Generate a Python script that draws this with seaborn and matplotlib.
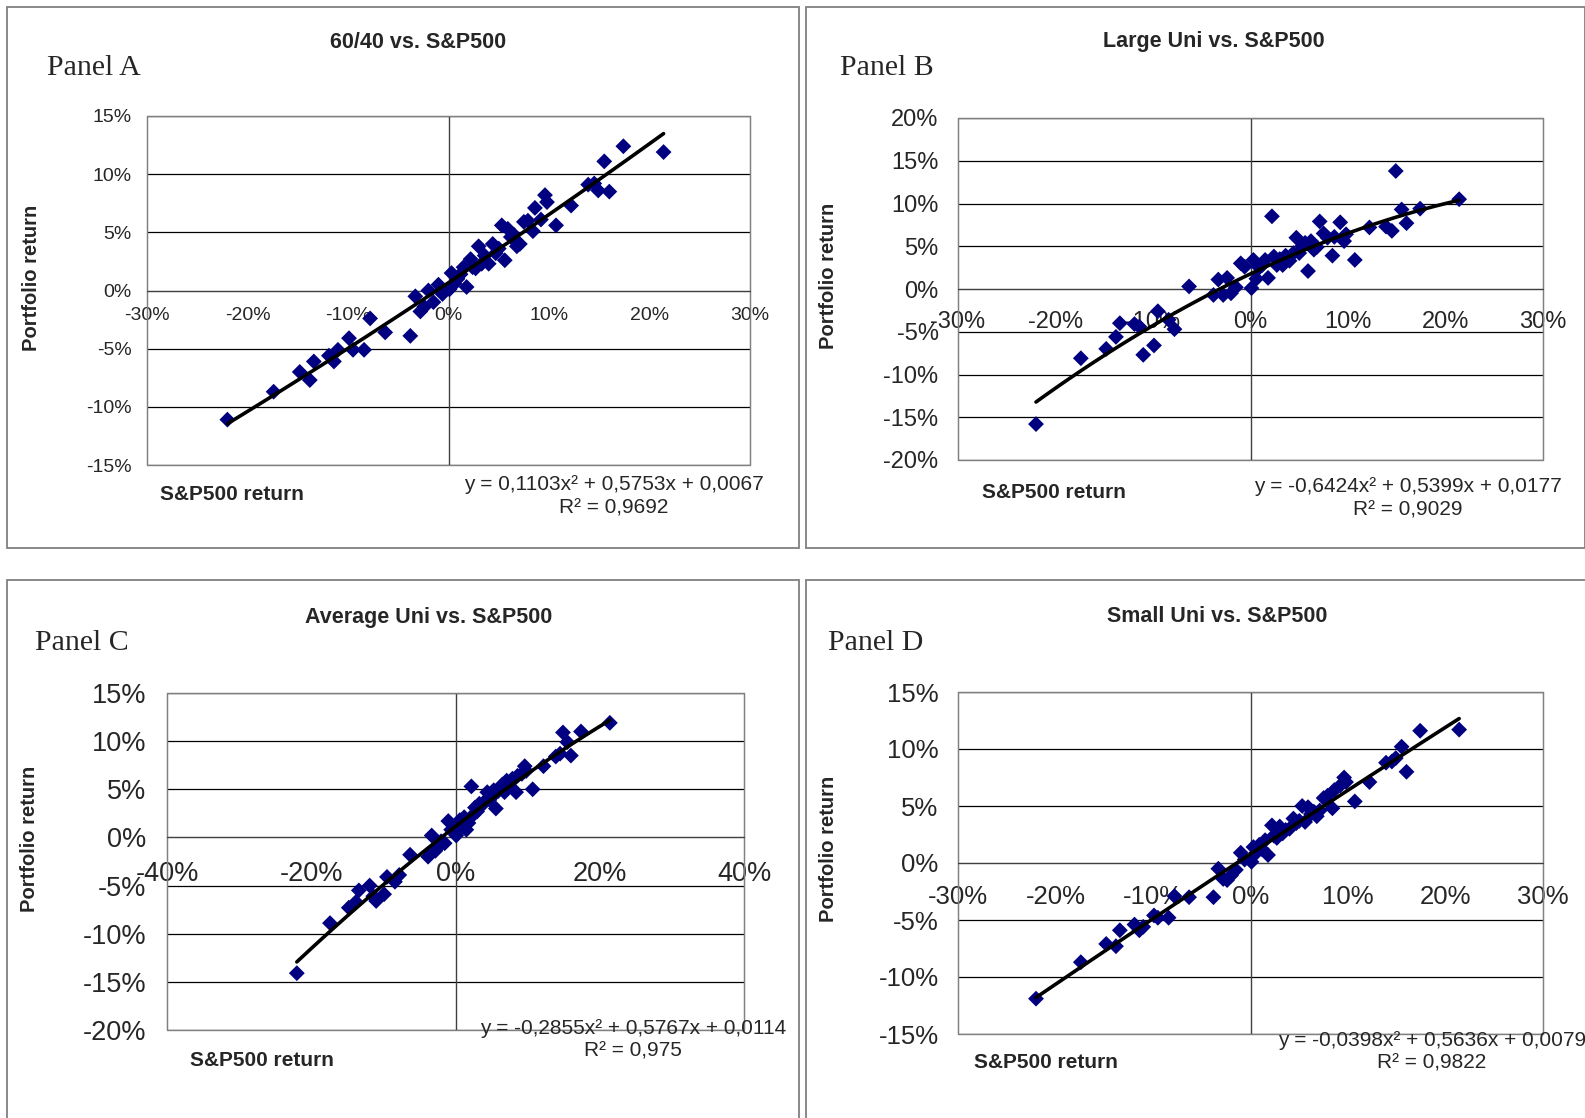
import numpy as np
import matplotlib
matplotlib.use("Agg")
import matplotlib.pyplot as plt
from matplotlib.patches import Rectangle
import seaborn as sns

# monthly S&P500 returns (%), shared by all four panels
sp500 = [-22.0, -17.4, -14.8, -13.8, -13.4, -11.9, -11.4, -11.0, -9.9, -9.5,
         -8.4, -7.8, -6.3, -3.8, -3.3, -2.8, -2.4, -2.0, -1.5, -1.0,
         -0.6, 0.1, 0.3, 0.6, 0.9, 1.2, 1.5, 1.8, 2.2, 2.4,
         2.7, 3.0, 3.3, 3.6, 4.0, 4.4, 4.7, 5.0, 5.3, 5.6,
         5.9, 6.2, 6.5, 6.8, 7.1, 7.5, 7.9, 8.4, 8.6, 9.2,
         9.6, 9.8, 10.7, 12.2, 13.9, 14.5, 14.9, 15.5, 16.0, 17.4, 21.4]

ret_6040 = [-11.1, -8.7, -7.0, -7.7, -6.1, -5.6, -6.1, -5.1, -4.1, -5.1,
            -5.1, -2.4, -3.6, -3.9, -0.5, -1.8, -1.4, 0.0, -1.0, 0.5,
            -0.3, 0.1, 1.5, 0.6, 1.0, 1.4, 2.0, 0.3, 2.7, 2.0,
            1.9, 3.8, 2.3, 3.0, 2.3, 4.0, 3.2, 3.6, 5.6, 2.6,
            5.3, 4.6, 4.8, 3.8, 4.0, 5.9, 6.0, 5.1, 7.1, 6.1,
            8.2, 7.6, 5.6, 7.3, 9.1, 9.2, 8.6, 11.1, 8.5, 12.4, 11.9]

ret_large = [-15.8, -8.1, -7.0, -5.6, -4.0, -4.1, -4.4, -7.7, -6.6, -2.6,
             -3.6, -4.7, 0.3, -0.7, 1.1, -0.7, 1.3, -0.5, 0.2, 3.0,
             2.6, 0.1, 3.4, 1.2, 2.5, 2.8, 3.4, 1.3, 8.5, 3.8,
             2.8, 3.5, 2.8, 3.9, 3.3, 4.2, 6.0, 4.2, 5.0, 5.4,
             2.1, 5.6, 4.6, 4.9, 7.9, 6.5, 6.0, 3.9, 6.1, 7.8,
             5.6, 6.4, 3.4, 7.2, 7.3, 6.8, 13.8, 9.3, 7.7, 9.4, 10.5]

ret_average = [-14.1, -8.9, -7.3, -6.7, -5.5, -5.0, -6.1, -6.6, -5.9, -4.1,
               -4.6, -3.9, -1.8, -2.0, 0.2, -1.4, -1.0, -0.4, -0.6, 1.7,
               0.8, 0.2, 1.3, 1.8, 1.1, 2.1, 0.8, 1.5, 5.3, 2.3,
               3.1, 2.7, 3.5, 3.3, 3.7, 4.7, 3.9, 4.2, 4.9, 3.0,
               4.8, 5.2, 5.5, 4.7, 5.9, 5.6, 6.1, 4.7, 6.4, 6.6,
               7.4, 6.9, 5.0, 7.4, 8.4, 8.7, 10.9, 9.9, 8.5, 11.0, 11.9]

ret_small = [-11.9, -8.7, -7.1, -7.3, -5.9, -5.4, -5.9, -5.6, -4.6, -4.8,
             -4.8, -2.9, -3.0, -3.0, -0.5, -1.4, -1.5, -1.1, -0.6, 0.9,
             0.3, 0.1, 1.4, 0.9, 1.6, 1.2, 2.0, 0.7, 3.3, 2.4,
             2.2, 3.2, 2.6, 2.9, 3.0, 3.9, 3.5, 3.7, 5.0, 3.6,
             4.9, 4.3, 4.5, 4.1, 4.6, 5.7, 5.9, 4.8, 6.4, 6.8,
             7.5, 7.1, 5.4, 7.1, 8.8, 8.9, 9.2, 10.2, 8.0, 11.6, 11.7]

titles = ["60/40 vs. S&P500", "Large Uni vs. S&P500",
          "Average Uni vs. S&P500", "Small Uni vs. S&P500"]
panel_names = ["Panel A", "Panel B", "Panel C", "Panel D"]
# quadratic trend coefficients (a, b, c) on decimal returns
trend_coefs = [(0.1103, 0.5753, 0.0067), (-0.6424, 0.5399, 0.0177),
               (-0.2855, 0.5767, 0.0114), (-0.0398, 0.5636, 0.0079)]
eq_labels = ["y = 0,1103x² + 0,5753x + 0,0067",
             "y = -0,6424x² + 0,5399x + 0,0177",
             "y = -0,2855x² + 0,5767x + 0,0114",
             "y = -0,0398x² + 0,5636x + 0,0079"]
r2_labels = ["R² = 0,9692", "R² = 0,9029", "R² = 0,975", "R² = 0,9822"]
x_limits = [(-30, 30), (-30, 30), (-40, 40), (-30, 30)]
x_steps = [10, 10, 20, 10]
y_limits = [(-15, 15), (-20, 20), (-20, 15), (-15, 15)]

series = [ret_6040, ret_large, ret_average, ret_small]

# pixel layout of each panel
layout = [
    dict(box=(7, 7, 799, 548), plot=(147, 116, 750, 465), title=(418, 42),
         panel=(47, 68), ylab=(32, 278), xlab=(160, 494), eq=(614, 485), r2=(614, 508),
         ts=14, ypad=11, xpad=7),
    dict(box=(806, 7, 1585, 548), plot=(958, 118, 1543, 460), title=(1214, 42),
         panel=(840, 68), ylab=(829, 276), xlab=(982, 492), eq=(1408, 487), r2=(1408, 510),
         ts=17, ypad=14, xpad=11),
    dict(box=(7, 580, 799, 1130), plot=(167, 693, 744, 1030), title=(429, 617),
         panel=(35, 643), ylab=(30, 839), xlab=(190, 1060), eq=(633, 1028), r2=(633, 1051),
         ts=19.5, ypad=15, xpad=12),
    dict(box=(806, 580, 1590, 1130), plot=(958, 692, 1543, 1034), title=(1217, 617),
         panel=(828, 643), ylab=(829, 849), xlab=(974, 1062), eq=(1432, 1040), r2=(1432, 1063),
         ts=18.5, ypad=14, xpad=11),
]

W, H = 1585, 1118
sns.set_style("white")
plt.rcParams['font.family'] = ['Liberation Sans', 'DejaVu Sans']

fig = plt.figure(figsize=(W / 100, H / 100), dpi=100)


def fx(x):
    return x / W


def fy(y):
    return 1 - y / H


for i in range(4):
    L = layout[i]
    bx0, by0, bx1, by1 = L['box']
    fig.add_artist(Rectangle((fx(bx0), fy(by1)), (bx1 - bx0) / W, (by1 - by0) / H,
                             transform=fig.transFigure, fill=False, ec='#808080', lw=1.3))

    px0, py0, px1, py1 = L['plot']
    ax = fig.add_axes([fx(px0), fy(py1), (px1 - px0) / W, (py1 - py0) / H])

    ax.grid(axis='y', color='black', lw=0.9)
    ax.set_axisbelow(True)
    ax.axvline(0, color='#404040', lw=1, zorder=2)

    sns.scatterplot(x=sp500, y=series[i], marker='D', s=65, color='#000080',
                    edgecolor='none', ax=ax, zorder=3)

    a, b, c = trend_coefs[i]
    xs = np.linspace(min(sp500), max(sp500), 120)
    ys = 100 * (a * (xs / 100) ** 2 + b * (xs / 100) + c)
    sns.lineplot(x=xs, y=ys, color='black', lw=2.6, ax=ax, zorder=4)

    xlo, xhi = x_limits[i]
    ylo, yhi = y_limits[i]
    ax.set_xlim(xlo, xhi)
    ax.set_ylim(ylo, yhi)
    xt = list(range(xlo, xhi + 1, x_steps[i]))
    yt = list(range(ylo, yhi + 1, 5))
    ax.set_xticks(xt)
    ax.set_xticklabels([f"{t}%" for t in xt])
    ax.set_yticks(yt)
    ax.set_yticklabels([f"{t}%" for t in yt])
    ax.set_xlabel('')
    ax.set_ylabel('')

    ax.spines['bottom'].set_position(('data', 0))
    ax.spines['bottom'].set_color('#404040')
    for s in ['left', 'top', 'right']:
        ax.spines[s].set_color('#808080')
    ax.add_patch(Rectangle((0, 0), 1, 1, transform=ax.transAxes, fill=False,
                           ec='#808080', lw=1, clip_on=False))
    ax.tick_params(axis='x', direction='out', length=5, width=1, color='#404040',
                   labelsize=L['ts'], pad=L['xpad'])
    ax.tick_params(axis='y', length=0, labelsize=L['ts'], pad=L['ypad'])

    fig.text(fx(L['title'][0]), fy(L['title'][1]), titles[i], ha='center', va='center',
             fontsize=15.5, fontweight='bold')
    fig.text(fx(L['panel'][0]), fy(L['panel'][1]), panel_names[i], ha='left', va='center',
             fontsize=21.5, family='Liberation Serif')
    fig.text(fx(L['ylab'][0]), fy(L['ylab'][1]), "Portfolio return", ha='center', va='center',
             rotation=90, fontsize=14.5, fontweight='bold')
    fig.text(fx(L['xlab'][0]), fy(L['xlab'][1]), "S&P500 return", ha='left', va='center',
             fontsize=15, fontweight='bold')
    fig.text(fx(L['eq'][0]), fy(L['eq'][1]), eq_labels[i], ha='center', va='center',
             fontsize=15)
    fig.text(fx(L['r2'][0]), fy(L['r2'][1]), r2_labels[i], ha='center', va='center',
             fontsize=15)

fig.savefig("out.png", dpi=100)
